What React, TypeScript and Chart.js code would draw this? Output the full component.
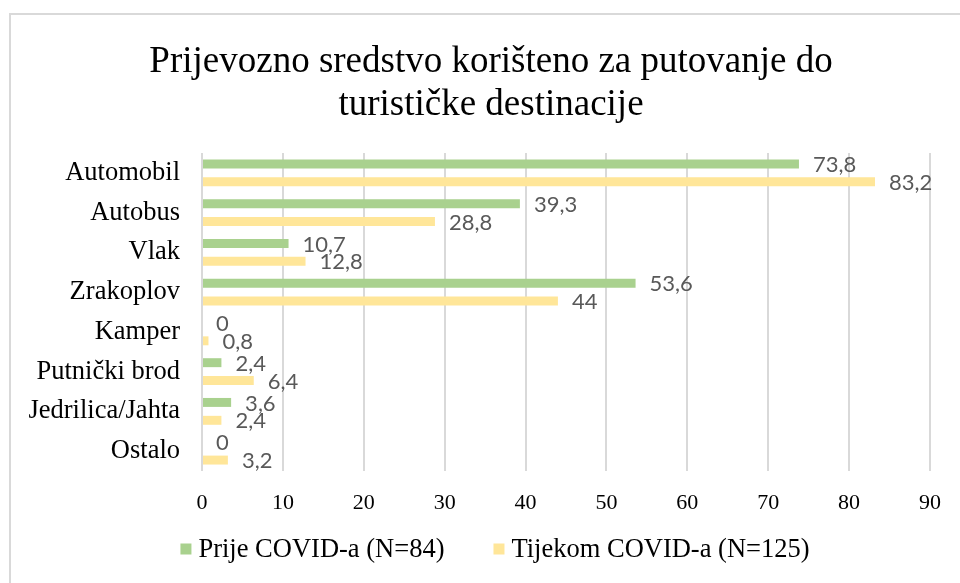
import React, { useEffect, useRef } from "react";
import { Chart, registerables } from "chart.js";

Chart.register(...registerables);

const categories = [
  "Automobil",
  "Autobus",
  "Vlak",
  "Zrakoplov",
  "Kamper",
  "Putnički brod",
  "Jedrilica/Jahta",
  "Ostalo",
];
const prijeCovid = [73.8, 39.3, 10.7, 53.6, 0, 2.4, 3.6, 0];
const tijekomCovid = [83.2, 28.8, 12.8, 44, 0.8, 6.4, 2.4, 3.2];
const seriesNames = ["Prije COVID-a (N=84)", "Tijekom COVID-a (N=125)"];
const seriesColors = ["#A9D18E", "#FFE699"];
const titleLines = [
  "Prijevozno sredstvo korišteno za putovanje do",
  "turističke destinacije",
];
const xTicks = [0, 10, 20, 30, 40, 50, 60, 70, 80, 90];

const SERIF = "'Liberation Serif', 'Times New Roman', serif";
const SANS = "Lato, 'Open Sans', sans-serif";

const dataLabels = {
  id: "dataLabels",
  afterDatasetsDraw(chart: any) {
    const ctx = chart.ctx;
    ctx.save();
    ctx.font = `22px ${SANS}`;
    ctx.fillStyle = "#595959";
    ctx.textAlign = "left";
    ctx.textBaseline = "middle";
    chart.data.datasets.forEach((ds: any, di: number) => {
      const meta = chart.getDatasetMeta(di);
      meta.data.forEach((el: any, i: number) => {
        const v = ds.data[i];
        const txt = String(v).replace(".", ",");
        ctx.fillText(txt, el.x + 14, el.y + 1);
      });
    });
    ctx.restore();
  },
};

const titleAndLegend = {
  id: "titleAndLegend",
  afterDraw(chart: any) {
    const ctx = chart.ctx;
    ctx.save();
    // title
    ctx.fillStyle = "#000";
    ctx.font = `37px ${SERIF}`;
    ctx.textAlign = "center";
    ctx.textBaseline = "alphabetic";
    const cx = 491;
    titleLines.forEach((line, i) => {
      ctx.fillText(line, cx, 72 + i * 43);
    });
    // legend
    ctx.font = `26.5px ${SERIF}`;
    ctx.textAlign = "left";
    ctx.textBaseline = "middle";
    const box = 11;
    const boxGap = 7;
    const itemGap = 49;
    const widths = seriesNames.map((n) => box + boxGap + ctx.measureText(n).width);
    const total = widths.reduce((a, b) => a + b, 0) + itemGap * (widths.length - 1);
    let x = 495 - total / 2;
    const y = 550;
    seriesNames.forEach((n, i) => {
      ctx.fillStyle = seriesColors[i];
      ctx.fillRect(x, y - box / 2 - 1, box, box);
      ctx.fillStyle = "#000";
      ctx.fillText(n, x + box + boxGap, y);
      x += widths[i] + itemGap;
    });
    ctx.restore();
  },
};

export default function App() {
  const ref = useRef<HTMLCanvasElement>(null);

  useEffect(() => {
    if (!ref.current) return;
    const chart = new Chart(ref.current, {
      type: "bar",
      data: {
        labels: categories,
        datasets: [
          {
            label: seriesNames[0],
            data: prijeCovid,
            backgroundColor: seriesColors[0],
            categoryPercentage: 0.9,
            barPercentage: 0.5,
          },
          {
            label: seriesNames[1],
            data: tijekomCovid,
            backgroundColor: seriesColors[1],
            categoryPercentage: 0.9,
            barPercentage: 0.5,
          },
        ],
      },
      options: {
        indexAxis: "y",
        responsive: false,
        animation: false,
        layout: { padding: { left: 0, right: 29, top: 153, bottom: 55 } },
        scales: {
          x: {
            min: 0,
            max: 90,
            afterBuildTicks: (scale: any) => {
              scale.ticks = xTicks.map((v) => ({ value: v }));
            },
            afterFit: (scale: any) => {
              scale.height = 57;
            },
            grid: {
              color: "#d9d9d9",
              lineWidth: 2,
              drawTicks: false,
            },
            border: { display: false },
            ticks: {
              padding: 19,
              color: "#000",
              font: { family: SERIF, size: 22 },
            },
          },
          y: {
            afterFit: (scale: any) => {
              scale.width = 202;
            },
            grid: { display: false, drawTicks: false },
            border: { display: false },
            ticks: {
              padding: 22,
              color: "#000",
              font: { family: SERIF, size: 26.5 },
            },
          },
        },
        plugins: {
          title: { display: false },
          legend: { display: false },
          tooltip: { enabled: false },
        },
      },
      plugins: [dataLabels, titleAndLegend],
    });
    return () => chart.destroy();
  }, []);

  return (
    <div
      style={{
        position: "fixed",
        left: 0,
        top: 0,
        width: 960,
        height: 583,
        overflow: "hidden",
        background: "#fff",
      }}
    >
      <div
        style={{
          position: "absolute",
          left: 9,
          top: 13,
          width: 2000,
          height: 2000,
          borderTop: "2px solid #d9d9d9",
          borderLeft: "2px solid #d9d9d9",
        }}
      />
      <canvas
        ref={ref}
        width={960}
        height={583}
        style={{ position: "absolute", left: 0, top: 0 }}
      />
    </div>
  );
}
